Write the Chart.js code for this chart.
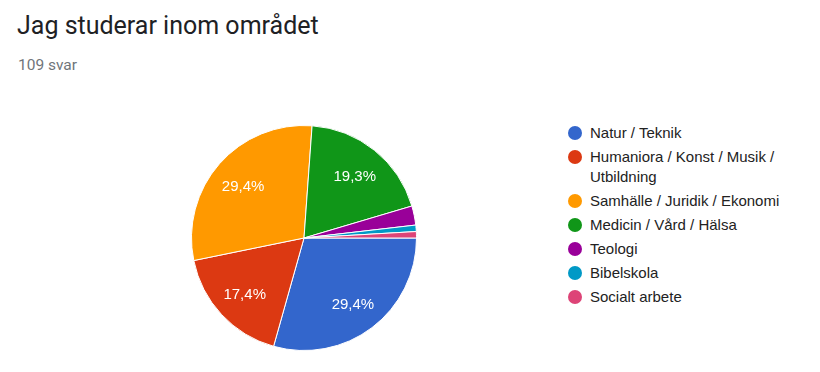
<!DOCTYPE html>
<html>
<head>
<meta charset="utf-8">
<script src="https://cdn.jsdelivr.net/npm/chart.js@4"></script>
<style>
  body { margin: 0; background: #fff; width: 820px; height: 372px; position: relative; overflow: hidden; }
  #title { position: absolute; left: 17px; top: 11px; font-family: Roboto, sans-serif; font-size: 25px; color: #202124; }
  #sub { position: absolute; left: 18px; top: 56px; font-family: Roboto, sans-serif; font-size: 15.5px; color: #70757a; }
  #pie-wrap { position: absolute; left: 191px; top: 125px; width: 226px; height: 226px; }
  #legend { position: absolute; left: 567px; top: 123px; font-family: "Liberation Sans", Arial, sans-serif; font-size: 15px; color: #222; }
  .item { position: relative; padding-left: 23px; line-height: 20px; margin-bottom: 4px; width: 195px; }
  .dot { position: absolute; left: 1px; top: 3px; width: 14px; height: 14px; border-radius: 50%; }
</style>
</head>
<body>
<div id="title">Jag studerar inom området</div>
<div id="sub">109 svar</div>
<div id="pie-wrap"><canvas id="pie"></canvas></div>
<div id="legend"></div>
<script>
const categories = ['Natur / Teknik', 'Humaniora / Konst / Musik / Utbildning', 'Samhälle / Juridik / Ekonomi',
    'Medicin / Vård / Hälsa', 'Teologi', 'Bibelskola', 'Socialt arbete'];
const answers = [32, 19, 32, 21, 3, 1, 1];
const colors = ['#3366cc', '#dc3912', '#ff9900', '#109618', '#990099', '#0099c6', '#dd4477'];

 // build the legend next to the pie
const legend = document.getElementById('legend');
categories.forEach((name, i) => {
    const item = document.createElement('div');
    item.className = 'item';
    item.innerHTML = `<span class="dot" style="background:${colors[i]}"></span>${name}`;
    legend.appendChild(item);
});

 // draws the percent text inside the bigger slices
const pctLabels = {
    id: 'pctLabels',
    afterDatasetsDraw(chart) {
        const ctx = chart.ctx;
        const total = answers.reduce((a, b) => a + b, 0);
        chart.getDatasetMeta(0).data.forEach((arc, i) => {
            const pct = answers[i] / total * 100;
            if (pct < 5) return;
            const mid = (arc.startAngle + arc.endAngle) / 2;
            const r = arc.outerRadius * 0.72;
            ctx.save();
            ctx.fillStyle = '#fff';
            ctx.font = '15px "Liberation Sans", Arial, sans-serif';
            ctx.textAlign = 'center';
            ctx.textBaseline = 'middle';
            ctx.fillText(pct.toFixed(1).replace('.', ',') + '%', arc.x + Math.cos(mid) * r, arc.y + Math.sin(mid) * r + 2);
            ctx.restore();
        });
    }
};

new Chart(document.getElementById('pie'), {
    type: 'pie',
    data: {
        labels: categories,
        datasets: [{
            data: answers,
            backgroundColor: colors,
            borderColor: '#fff',
            borderWidth: 1
        }]
    },
    options: {
        responsive: true,
        maintainAspectRatio: false,
        animation: false,
        rotation: 90,
        plugins: {
            legend: { display: false },
            tooltip: { enabled: false }
        }
    },
    plugins: [pctLabels]
});
</script>
</body>
</html>
